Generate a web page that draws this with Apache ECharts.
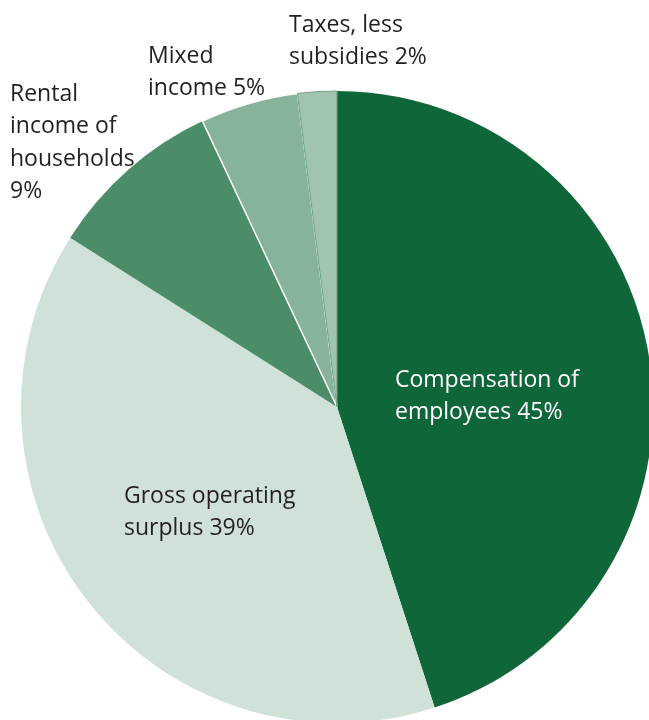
<!DOCTYPE html>
<html><head><meta charset="utf-8">
<script src="https://cdn.jsdelivr.net/npm/echarts@6/dist/echarts.min.js"></script>
<style>html,body{margin:0;padding:0;background:#fff}#c{width:649px;height:720px}</style>
</head><body><div id="c"></div>
<script>
const categories = ['Compensation of\nemployees', 'Gross operating\nsurplus', 'Rental\nincome of\nhouseholds', 'Mixed\nincome', 'Taxes, less\nsubsidies'];
const values = [45, 39, 9, 5, 2];
const colors = ['#0f6638', '#d0e2d8', '#4b8c69', '#86b39a', '#a0c4b0'];
const labelColors = ['#ffffff', '#231f20', '#231f20', '#231f20', '#231f20'];
const labelPos = {0: [395, 364], 1: [124, 480], 2: [10, 78], 3: [148, 40], 4: [289, 9]};

const chart = echarts.init(document.getElementById('c'), null, {renderer: 'canvas'});
const data = categories.map((name, i) => {
  const d = {name, value: values[i], itemStyle: {color: colors[i]},
    label: {color: labelColors[i], position: i < 2 ? 'inside' : 'outside'}};
  if (i === 3) d.itemStyle = {color: colors[i], borderColor: '#ffffff', borderWidth: 1.5};
  if (i === 4) d.itemStyle = {color: colors[i], borderColor: '#6aa383', borderWidth: 1};
  return d;
});
chart.setOption({
  animation: false,
  series: [{
    type: 'pie',
    center: [337, 407],
    radius: [0, 316],
    startAngle: 90,
    clockwise: true,
    data,
    label: {
      show: true,
      fontFamily: '"Open Sans", sans-serif',
      fontSize: 23,
      lineHeight: 32.5,
      align: 'left',
      overflow: 'none',
      formatter: p => p.name + (p.dataIndex === 2 ? '\n' : ' ') + p.value + '%'
    },
    labelLine: {show: false},
    labelLayout: function (params) {
      const pos = labelPos[params.dataIndex];
      return {x: pos[0], y: pos[1], align: 'left', verticalAlign: 'top', hideOverlap: false};
    }
  }]
});
</script></body></html>
